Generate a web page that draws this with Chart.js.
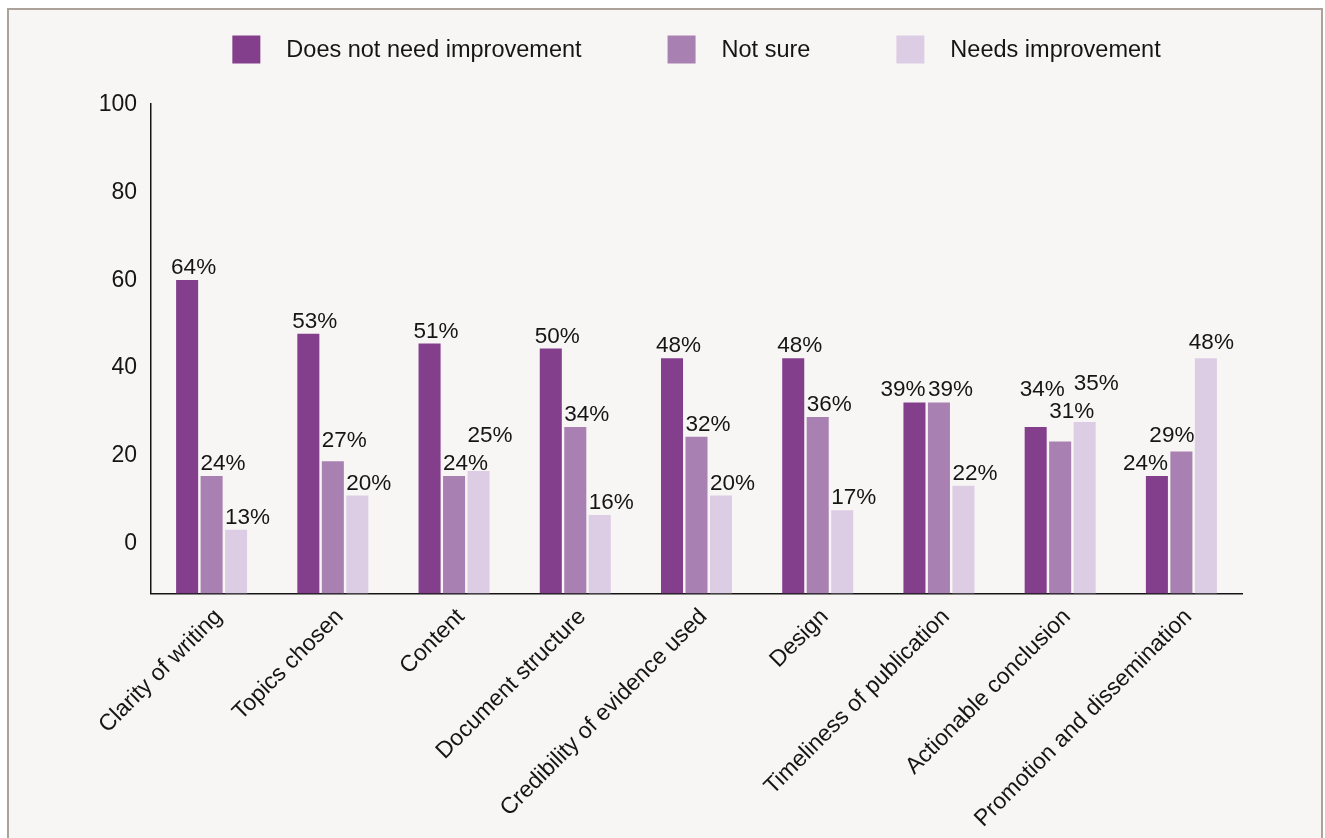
<!DOCTYPE html>
<html lang="en">
<head>
    <meta charset="UTF-8" />
    <title>Assessment of publications</title>
    <script src="https://cdn.jsdelivr.net/npm/chart.js"></script>
    <style>
        html, body { margin: 0; padding: 0; background: #ffffff; overflow: hidden; }
        .frame {
            position: absolute; left: 7px; top: 8px; width: 1312px; height: 860px;
            border: 2px solid #aaa29b; background: #f7f6f4;
        }
        .wrap { position: absolute; left: 0; top: 0; width: 1325px; height: 838px; }
    </style>
</head>
<body>
    <div class="frame"></div>
    <div class="wrap"><canvas id="chart"></canvas></div>
    <script>
    // data
    const categories = ['Clarity of writing', 'Topics chosen', 'Content', 'Document structure',
        'Credibility of evidence used', 'Design', 'Timeliness of publication',
        'Actionable conclusion', 'Promotion and dissemination'];
    const noNeed  = [64, 53, 51, 50, 48, 48, 39, 34, 24];
    const notSure = [24, 27, 24, 34, 32, 36, 39, 31, 29];
    const needs   = [13, 20, 25, 16, 20, 17, 22, 35, 48];
    const yTicks  = [0, 20, 40, 60, 80, 100];

    const FONT = "'Liberation Sans', Arial, sans-serif";
    const INK = '#151515';

    // legend drawn by hand (box, gap, text)
    const legendPlugin = {
        id: 'topLegend',
        afterDraw(chart) {
            const ctx = chart.ctx;
            const box = 28, gapText = 26, gapItem = 86, cy = 49.5;
            ctx.save();
            ctx.font = '23.5px ' + FONT;
            const items = chart.data.datasets.map(d => ({ text: d.label, color: d.backgroundColor, w: ctx.measureText(d.label).width }));
            let total = items.reduce((s, it) => s + box + gapText + it.w, 0) + gapItem * (items.length - 1);
            let x = (chart.chartArea.left + chart.chartArea.right) / 2 - total / 2;
            ctx.textBaseline = 'middle';
            ctx.textAlign = 'left';
            items.forEach(it => {
                ctx.fillStyle = it.color;
                ctx.fillRect(x, cy - box / 2, box, box);
                ctx.fillStyle = INK;
                ctx.fillText(it.text, x + box + gapText, cy + 1);
                x += box + gapText + it.w + gapItem;
            });
            ctx.restore();
        }
    };

    // percentage labels above bars, a few nudged by hand like the original
    const nudges = {
        '0-6': [-18, 0], '0-7': [0, -25], '0-8': [-18, 0],
        '1-1': [0, -8], '1-7': [0, -18], '1-8': [-21, -3],
        '2-2': [0, -23], '2-7': [0, -26], '2-8': [-6, -3]
    };
    const valueLabels = {
        id: 'valueLabels',
        afterDatasetsDraw(chart) {
            const ctx = chart.ctx;
            ctx.save();
            ctx.font = '22.5px ' + FONT;
            ctx.fillStyle = INK;
            ctx.textAlign = 'left';
            ctx.textBaseline = 'alphabetic';
            chart.data.datasets.forEach((ds, di) => {
                chart.getDatasetMeta(di).data.forEach((bar, i) => {
                    const n = nudges[di + '-' + i] || [0, 0];
                    const left = bar.x - bar.width / 2 + (di === 0 ? -5 : 0);
                    ctx.fillText(ds.data[i] + '%', left + n[0], bar.y - 6 + n[1]);
                });
            });
            ctx.restore();
        }
    };

    new Chart(document.getElementById('chart'), {
        type: 'bar',
        data: {
            labels: categories,
            datasets: [
                { label: 'Does not need improvement', data: noNeed, backgroundColor: '#833f8c' },
                { label: 'Not sure', data: notSure, backgroundColor: '#a980b2' },
                { label: 'Needs improvement', data: needs, backgroundColor: '#dccde4' }
            ]
        },
        options: {
            responsive: true,
            maintainAspectRatio: false,
            animation: false,
            events: [],
            layout: { padding: { top: 103.5, right: 83, left: 0, bottom: 0 } },
            datasets: { bar: { barPercentage: 0.9, categoryPercentage: 0.606 } },
            plugins: { legend: { display: false }, tooltip: { enabled: false } },
            scales: {
                x: {
                    grid: { display: false, drawTicks: false },
                    border: { display: true, color: INK, width: 1.5 },
                    ticks: { autoSkip: false, maxRotation: 45, minRotation: 45, padding: 10, labelOffset: 7,
                        font: { family: FONT, size: 23 }, color: INK },
                    afterFit: s => { s.height = 244.5; }
                },
                y: { display: false, min: 0, max: 100 },
                yt: {
                    type: 'linear', position: 'left', min: -11.45, max: 100.34,
                    grid: { display: false, drawTicks: false },
                    border: { display: true, color: INK, width: 1.5 },
                    ticks: { padding: 14, font: { family: FONT, size: 23 }, color: INK },
                    afterBuildTicks: s => { s.ticks = yTicks.map(v => ({ value: v })); },
                    afterFit: s => { s.width = 151; }
                }
            }
        },
        plugins: [legendPlugin, valueLabels]
    });
    </script>
</body>
</html>
